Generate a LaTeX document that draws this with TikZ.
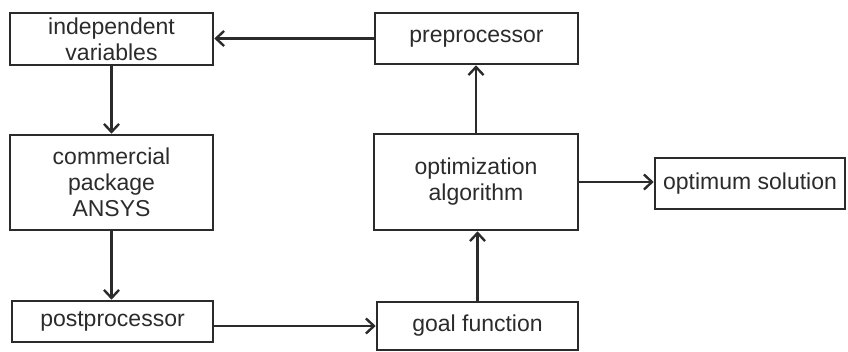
\documentclass[tikz,border=0pt]{standalone}
\usepackage{fontspec}
\setmainfont{Liberation Sans}
\usetikzlibrary{arrows.meta}
\definecolor{ink}{HTML}{2B2B2B}
\tikzset{
  blk/.style={draw=ink, line width=2.6pt, text=ink, align=center, inner sep=0pt,
    font=\fontsize{23}{26}\selectfont},
  flow/.style={draw=ink, line width=2.6pt,
    -{Straight Barb[length=8pt,width=15pt,line width=2.4pt]}}
}
\begin{document}
\begin{tikzpicture}[x=1pt,y=-1pt]
\useasboundingbox (0,0) rectangle (848,352);
% left column
\node[blk, minimum width=203pt, minimum height=52pt] (indep) at (111.5,39) {independent\\variables};
\node[blk, minimum width=203pt, minimum height=95pt] (comm) at (111.5,182.5) {commercial\\package\\ANSYS};
\node[blk, minimum width=201pt, minimum height=41pt] (post) at (112.5,321.5) {postprocessor};
% right column
\node[blk, minimum width=203pt, minimum height=51pt] (pre) at (476.5,38.5) {preprocessor};
\node[blk, minimum width=204pt, minimum height=96pt] (opt) at (476,182) {optimization\\algorithm};
\node[blk, minimum width=201pt, minimum height=48pt] (goal) at (477.5,326) {goal function};
\node[blk, minimum width=190pt, minimum height=51pt] (sol) at (750,183.5) {optimum solution};
% connectors
\draw[flow] (indep.south) -- (indep.south |- comm.north);
\draw[flow] (comm.south) -- (comm.south |- post.north);
\draw[flow] (goal.west -| post.east) -- (goal.west);
\draw[flow] (goal.north) -- (goal.north |- opt.south);
\draw[flow] (opt.north) -- (opt.north |- pre.south);
\draw[flow] (pre.west) -- (pre.west -| indep.east);
\draw[flow] (opt.east) -- (opt.east -| sol.west);
\end{tikzpicture}
\end{document}
